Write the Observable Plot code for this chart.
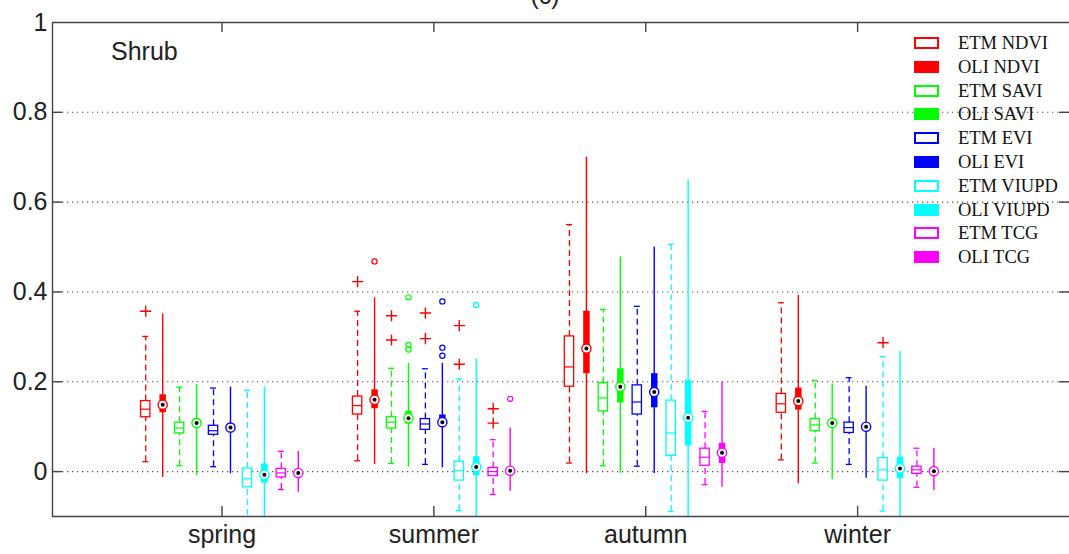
<!DOCTYPE html>
<html><head><meta charset="utf-8">
<script src="https://cdn.jsdelivr.net/npm/d3@7"></script>
<script src="https://cdn.jsdelivr.net/npm/@observablehq/plot@0.6"></script>
<style>
body{margin:0;background:#fff;}
#wrap{position:relative;width:1069px;height:554px;overflow:hidden;font-family:"Liberation Sans",Arial,sans-serif;}
#wrap svg{position:absolute;left:0;top:0;}
.lg{position:absolute;font-family:"Liberation Serif","Times New Roman",serif;font-size:18.5px;line-height:18px;white-space:nowrap;color:#111}
.sw{position:absolute;width:25px;height:12px;box-sizing:border-box}
.ann{position:absolute;font-size:25px;line-height:25px;white-space:nowrap;color:#222}
</style></head><body><div id="wrap"></div>
<script>
const seasons = ["spring","summer","autumn","winter"];
const seriesNames = ["ETM NDVI","OLI NDVI","ETM SAVI","OLI SAVI","ETM EVI","OLI EVI","ETM VIUPD","OLI VIUPD","ETM TCG","OLI TCG"];
const seriesColors = ["#ff0000","#ff0000","#00ff00","#00ff00","#0000ff","#0000ff","#00ffff","#00ffff","#ff00ff","#ff00ff"];
const yTickValues = [0, 0.2, 0.4, 0.6, 0.8, 1];
const gridValues = [0, 0.2, 0.4, 0.6, 0.8];
const panelTitle = "(c)";
const panelLabel = "Shrub";

// [lower whisker, q1, median, q3, upper whisker] per season
const etmNDVI  = [[0.022,0.121,0.139,0.157,0.301],[0.024,0.127,0.147,0.167,0.357],[0.019,0.189,0.233,0.301,0.550],[0.026,0.131,0.151,0.173,0.376]];
const oliNDVI  = [[-0.013,0.131,0.149,0.171,0.351],[0.016,0.140,0.160,0.182,0.387],[-0.005,0.218,0.274,0.357,0.700],[-0.027,0.137,0.157,0.186,0.392]];
const etmSAVI  = [[0.013,0.085,0.097,0.109,0.188],[0.018,0.096,0.110,0.121,0.230],[0.013,0.134,0.164,0.197,0.361],[0.019,0.090,0.104,0.117,0.203]];
const oliSAVI  = [[-0.009,0.099,0.108,0.117,0.194],[0.010,0.106,0.119,0.134,0.241],[-0.004,0.153,0.189,0.229,0.478],[-0.018,0.099,0.108,0.116,0.195]];
const etmEVI   = [[0.011,0.082,0.091,0.102,0.186],[0.016,0.093,0.106,0.117,0.229],[0.012,0.127,0.155,0.192,0.368],[0.016,0.086,0.098,0.109,0.209]];
const oliEVI   = [[-0.005,0.090,0.098,0.106,0.188],[0.008,0.100,0.110,0.126,0.241],[-0.004,0.142,0.177,0.218,0.500],[-0.015,0.092,0.100,0.107,0.190]];
const etmVIUPD = [[-0.120,-0.035,-0.016,0.007,0.181],[-0.087,-0.020,0.002,0.022,0.206],[-0.089,0.035,0.086,0.158,0.506],[-0.088,-0.020,0.004,0.030,0.256]];
const oliVIUPD = [[-0.150,-0.026,-0.007,0.017,0.188],[-0.150,-0.009,0.010,0.033,0.251],[-0.150,0.057,0.120,0.203,0.650],[-0.150,-0.016,0.007,0.032,0.268]];
const etmTCG   = [[-0.040,-0.013,-0.003,0.006,0.045],[-0.051,-0.010,0.000,0.008,0.071],[-0.029,0.013,0.032,0.051,0.134],[-0.035,-0.005,0.004,0.011,0.052]];
const oliTCG   = [[-0.046,-0.012,-0.003,0.005,0.045],[-0.044,-0.006,0.002,0.008,0.097],[-0.035,0.018,0.042,0.063,0.199],[-0.042,-0.006,0.001,0.008,0.052]];

// outliers per season
const etmNDVIOut  = [[0.357],[0.423],[],[]];
const oliNDVIOut  = [[],[0.468],[],[]];
const etmSAVIOut  = [[],[0.347,0.293],[],[]];
const oliSAVIOut  = [[],[0.388,0.282,0.272],[],[]];
const etmEVIOut   = [[],[0.353,0.296],[],[]];
const oliEVIOut   = [[],[0.379,0.276,0.258],[],[]];
const etmVIUPDOut = [[],[0.325,0.239],[],[0.287]];
const oliVIUPDOut = [[],[0.371],[],[]];
const etmTCGOut   = [[],[0.140,0.108],[],[]];
const oliTCGOut   = [[],[0.162],[],[]];

const statsList = [etmNDVI, oliNDVI, etmSAVI, oliSAVI, etmEVI, oliEVI, etmVIUPD, oliVIUPD, etmTCG, oliTCG];
const outList = [etmNDVIOut, oliNDVIOut, etmSAVIOut, oliSAVIOut, etmEVIOut, oliEVIOut, etmVIUPDOut, oliVIUPDOut, etmTCGOut, oliTCGOut];

const W = 1069, H = 554, mL = 52, mR = 0, mT = 22, mB = 38;
const xDomain = [0.2, 5], yDomain = [-0.1, 1];
const slot = 0.08, boxHalf = 0.022, capHalf = 0.014;
const pxX = (xDomain[1]-xDomain[0])/(W-mL-mR);
const pxY = (yDomain[1]-yDomain[0])/(H-mT-mB);
const tickLen = 10;

const rows = [], outRows = [];
statsList.forEach((arr, s) => {
  arr.forEach((v, k) => {
    const pos = k + 1 + (s - 4.5) * slot;
    const sensor = seriesNames[s].slice(0,3);
    rows.push({series: seriesNames[s], sensor, color: seriesColors[s], pos, lo: v[0], q1: v[1], med: v[2], q3: v[3], hi: v[4]});
    outList[s][k].forEach(val => outRows.push({series: seriesNames[s], sensor, color: seriesColors[s], pos, value: val}));
  });
});
const etm = rows.filter(d => d.sensor === "ETM");
const oli = rows.filter(d => d.sensor === "OLI");
const etmOut = outRows.filter(d => d.sensor === "ETM");
const oliOut = outRows.filter(d => d.sensor === "OLI");
const axisColor = "#444";

const chart = Plot.plot({
  width: W, height: H,
  marginLeft: mL, marginRight: mR, marginTop: mT, marginBottom: mB,
  x: {domain: xDomain, axis: null},
  y: {domain: yDomain, axis: null},
  color: {type: "identity"},
  style: {fontFamily: "'Liberation Sans', Arial, sans-serif", fontSize: "25px", color: "#222", background: "white", overflow: "hidden"},
  marks: [
    Plot.ruleY(gridValues, {stroke: "#555", strokeDasharray: "1.3,3.7", strokeWidth: 1.1}),
    // ETM: classic boxes, dashed whiskers
    Plot.ruleX(etm, {x: "pos", y1: "q3", y2: "hi", stroke: "color", strokeWidth: 1.3, strokeDasharray: "6,4", clip: true}),
    Plot.ruleX(etm, {x: "pos", y1: "lo", y2: "q1", stroke: "color", strokeWidth: 1.3, strokeDasharray: "6,4", clip: true}),
    Plot.ruleY(etm, {y: "hi", x1: d => d.pos - capHalf, x2: d => d.pos + capHalf, stroke: "color", strokeWidth: 1.3, clip: true}),
    Plot.ruleY(etm, {y: "lo", x1: d => d.pos - capHalf, x2: d => d.pos + capHalf, stroke: "color", strokeWidth: 1.3, clip: true}),
    Plot.rect(etm, {x1: d => d.pos - boxHalf, x2: d => d.pos + boxHalf, y1: "q1", y2: "q3", fill: "white", stroke: "color", strokeWidth: 1.3}),
    Plot.ruleY(etm, {y: "med", x1: d => d.pos - boxHalf, x2: d => d.pos + boxHalf, stroke: "color", strokeWidth: 1.2}),
    Plot.dot(etmOut, {x: "pos", y: "value", symbol: "plus", r: 3.7, stroke: "#ff0000", strokeWidth: 1.4}),
    // OLI: compact boxes
    Plot.ruleX(oli, {x: "pos", y1: "lo", y2: "hi", stroke: "color", strokeWidth: 1.4, clip: true}),
    Plot.ruleX(oli, {x: "pos", y1: "q1", y2: "q3", stroke: "color", strokeWidth: 6.5, strokeLinecap: "butt"}),
    Plot.dot(oli, {x: "pos", y: "med", r: 4.6, fill: "white", stroke: "color", strokeWidth: 1.4}),
    Plot.dot(oli, {x: "pos", y: "med", r: 2, fill: "black"}),
    Plot.dot(oliOut, {x: "pos", y: "value", r: 2.6, stroke: "color", fill: "none", strokeWidth: 1.2}),
    // axes box (left, top, bottom) and inward ticks
    Plot.ruleY([yDomain[0], yDomain[1]], {stroke: axisColor, strokeWidth: 1.4}),
    Plot.ruleX([xDomain[0]], {stroke: axisColor, strokeWidth: 1.4}),
    Plot.ruleY(gridValues, {x1: xDomain[0], x2: xDomain[0] + tickLen * pxX, stroke: axisColor, strokeWidth: 1.4}),
    Plot.ruleY(gridValues, {x1: xDomain[1] - tickLen * pxX, x2: xDomain[1], stroke: axisColor, strokeWidth: 1.4}),
    Plot.ruleX([1, 2, 3, 4], {y1: yDomain[0], y2: yDomain[0] + tickLen * pxY, stroke: axisColor, strokeWidth: 1.4}),
    Plot.ruleX([1, 2, 3, 4], {y1: yDomain[1] - tickLen * pxY, y2: yDomain[1], stroke: axisColor, strokeWidth: 1.4}),
    Plot.axisY(yTickValues, {tickSize: 0, tickPadding: 5, tickFormat: d => String(d), fill: "#222", label: null}),
    Plot.axisX([1, 2, 3, 4], {tickSize: 0, tickPadding: 9, tickFormat: d => seasons[d - 1], fill: "#222", label: null})
  ]
});

const wrap = document.getElementById("wrap");
wrap.appendChild(chart);

// annotations
const t = document.createElement("div");
t.className = "ann"; t.textContent = panelTitle;
t.style.left = "545px"; t.style.top = "-17px"; t.style.transform = "translateX(-50%)";
wrap.appendChild(t);
const sh = document.createElement("div");
sh.className = "ann"; sh.textContent = panelLabel;
sh.style.left = "111px"; sh.style.top = "39px";
wrap.appendChild(sh);

// legend
seriesNames.forEach((name, i) => {
  const yc = 43 + i * 23.8;
  const sw = document.createElement("div");
  sw.className = "sw";
  sw.style.left = "914px"; sw.style.top = (yc - 6) + "px";
  if (name.startsWith("ETM")) { sw.style.border = "2px solid " + seriesColors[i]; sw.style.background = "white"; }
  else { sw.style.background = seriesColors[i]; }
  wrap.appendChild(sw);
  const tx = document.createElement("div");
  tx.className = "lg"; tx.textContent = name;
  tx.style.left = "958px"; tx.style.top = (yc - 9) + "px";
  wrap.appendChild(tx);
});
</script></body></html>
